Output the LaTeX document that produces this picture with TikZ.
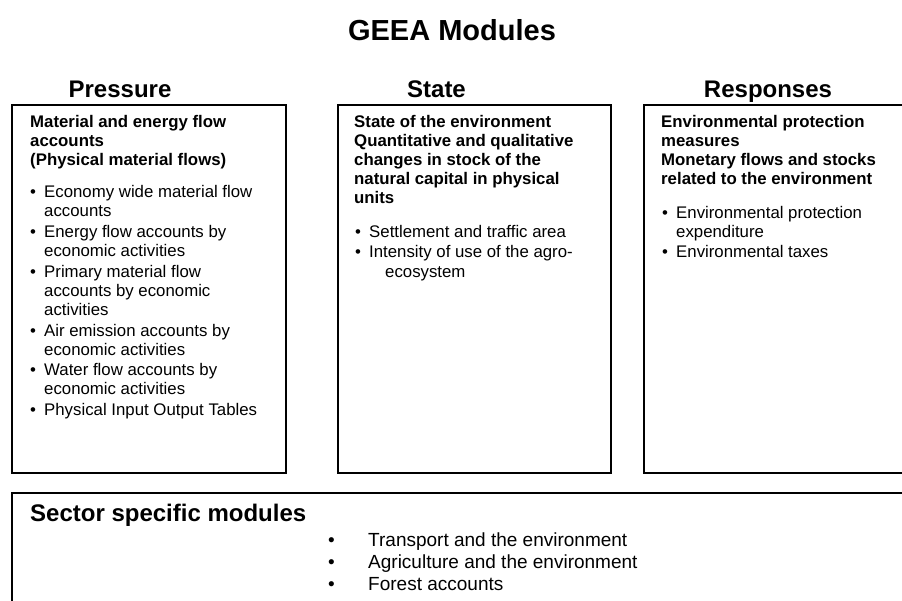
\documentclass[tikz,border=0pt]{standalone}
\usepackage{fontspec}
\setmainfont{Liberation Sans}
\begin{document}
\begin{tikzpicture}[x=1pt,y=-1pt,
  titlestyle/.style={font=\bfseries\fontsize{29}{34}\selectfont, anchor=base, inner sep=0pt},
  headstyle/.style={font=\bfseries\fontsize{24}{28}\selectfont, anchor=base, inner sep=0pt},
  secstyle/.style={font=\bfseries\fontsize{24}{28}\selectfont, anchor=base west, inner sep=0pt},
  bh/.style={font=\bfseries\fontsize{16.8}{19}\selectfont, anchor=base west, inner sep=0pt},
  tx/.style={font=\fontsize{16.8}{19}\selectfont, anchor=base west, inner sep=0pt},
  bigtx/.style={font=\fontsize{19}{22}\selectfont, anchor=base west, inner sep=0pt},
  modbox/.style={draw=black, line width=1.6pt}]
\useasboundingbox (0,0) rectangle (902,601);
\fill[white] (0,0) rectangle (902,601);
\clip (0,0) rectangle (902,601);

% title and headers
\node[titlestyle] (title) at (452,41) {GEEA Modules};
\node[headstyle] (hpress) at (120,98) {Pressure};
\node[headstyle] (hstate) at (436.5,98) {State};
\node[headstyle] (hresp) at (768,98) {Responses};

% boxes
\draw[modbox] (12,105) rectangle (286,473);
\draw[modbox] (338,105) rectangle (611,473);
\draw[modbox] (644,105) rectangle (915,473);
\draw[modbox] (12,493) rectangle (915,615);

% Pressure box
\node[bh] (p1) at (30,128) {Material and energy flow};
\node[bh] (p2) at (30,147) {accounts};
\node[bh] (p3) at (30,166) {(Physical material flows)};
\node[tx] (pb1) at (30,198) {•};
\node[tx] (pa1) at (44,198) {Economy wide material flow};
\node[tx] (pa2) at (44,217) {accounts};
\node[tx] (pb2) at (30,238) {•};
\node[tx] (pc1) at (44,238) {Energy flow accounts by};
\node[tx] (pc2) at (44,257) {economic activities};
\node[tx] (pb3) at (30,277.5) {•};
\node[tx] (pd1) at (44,277.5) {Primary material flow};
\node[tx] (pd2) at (44,296.5) {accounts by economic};
\node[tx] (pd3) at (44,315.5) {activities};
\node[tx] (pb4) at (30,336.5) {•};
\node[tx] (pe1) at (44,336.5) {Air emission accounts by};
\node[tx] (pe2) at (44,355.5) {economic activities};
\node[tx] (pb5) at (30,375.5) {•};
\node[tx] (pf1) at (44,375.5) {Water flow accounts by};
\node[tx] (pf2) at (44,394.5) {economic activities};
\node[tx] (pb6) at (30,415.5) {•};
\node[tx] (pg1) at (44,415.5) {Physical Input Output Tables};

% State box
\node[bh] (s1) at (354,128) {State of the environment};
\node[bh] (s2) at (354,147) {Quantitative and qualitative};
\node[bh] (s3) at (354,166) {changes in stock of the};
\node[bh] (s4) at (354,185) {natural capital in physical};
\node[bh] (s5) at (354,204) {units};
\node[tx] (sb1) at (355,238) {•};
\node[tx] (sa1) at (369,238) {Settlement and traffic area};
\node[tx] (sb2) at (355,257.5) {•};
\node[tx] (sc1) at (369,257.5) {Intensity of use of the agro-};
\node[tx] (sc2) at (385,277.5) {ecosystem};

% Responses box
\node[bh] (r1) at (661,128) {Environmental protection};
\node[bh] (r2) at (661,147) {measures};
\node[bh] (r3) at (661,166) {Monetary flows and stocks};
\node[bh] (r4) at (661,185) {related to the environment};
\node[tx] (rb1) at (662,218.5) {•};
\node[tx] (ra1) at (676,218.5) {Environmental protection};
\node[tx] (ra2) at (676,238) {expenditure};
\node[tx] (rb2) at (662,257.5) {•};
\node[tx] (rc1) at (676,257.5) {Environmental taxes};

% Sector specific modules
\node[secstyle] (sec) at (30,521) {Sector specific modules};
\node[bigtx] (tb1) at (328,546.5) {•};
\node[bigtx] (t1) at (368,546.5) {Transport and the environment};
\node[bigtx] (tb2) at (328,568.5) {•};
\node[bigtx] (t2) at (368,568.5) {Agriculture and the environment};
\node[bigtx] (tb3) at (328,590.5) {•};
\node[bigtx] (t3) at (368,590.5) {Forest accounts};
\end{tikzpicture}
\end{document}
